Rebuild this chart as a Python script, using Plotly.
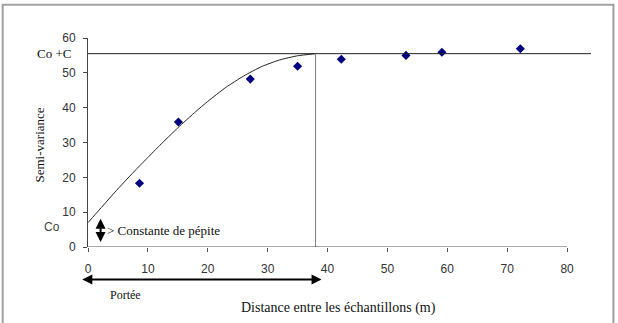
import plotly.graph_objects as go

dist = [8.6, 15.1, 27.1, 35.0, 42.3, 53.1, 59.1, 72.2]
semivar = [18.3, 35.9, 48.2, 51.9, 53.9, 55.0, 55.9, 56.9]

# Fitted model curve
model_x = [0, 2, 5, 8, 10, 12, 15, 18, 20, 23, 26, 29, 32, 35, 38]
model_y = [7.0, 10.9, 16.7, 22.2, 25.7, 29.2, 34.2, 38.9, 41.8, 45.8, 49.1, 51.8, 53.7, 54.9, 55.5]

sill = 55.5      # Co + C
nugget = 7.0     # Co
rng = 38.0       # Portée

x_ticks = [0, 10, 20, 30, 40, 50, 60, 70, 80]
y_ticks = [0, 10, 20, 30, 40, 50, 60]

SERIF = "'Liberation Serif', 'DejaVu Serif', 'Times New Roman', serif"
SANS = "'Liberation Sans', Arial, sans-serif"

fig = go.Figure()
fig.add_trace(go.Scatter(x=model_x, y=model_y, mode="lines",
                         line=dict(color="#222222", width=1, shape="spline", smoothing=0.5),
                         hoverinfo="skip", showlegend=False))
fig.add_trace(go.Scatter(x=dist, y=semivar, mode="markers",
                         marker=dict(symbol="diamond", size=7, color="#000080"),
                         showlegend=False))

shapes = [
    # outer frame
    dict(type="rect", xref="paper", yref="paper", x0=-0.1696, x1=1.0446, y0=-0.40, y1=1.1595,
         line=dict(color="#a0a0a0", width=2), layer="below"),
    # palier line
    dict(type="line", xref="x", yref="y", x0=0, x1=84, y0=sill, y1=sill,
         line=dict(color="#222222", width=1)),
    # range vertical line
    dict(type="line", xref="x", yref="y", x0=rng, x1=rng, y0=0, y1=sill,
         line=dict(color="#808080", width=1)),
    # x axis line (0..80)
    dict(type="line", xref="x", yref="y", x0=0, x1=x_ticks[-1], y0=0, y1=0,
         line=dict(color="#555555", width=1)),
]

annotations = [
    dict(text="Co +C", xref="paper", x=0, xanchor="right", xshift=-15, yref="y", y=sill,
         yanchor="middle", showarrow=False, font=dict(family=SERIF, size=13, color="#111111")),
    dict(text="Co", xref="paper", x=0, xanchor="center", xshift=-36, yref="y", y=5.6,
         yanchor="middle", showarrow=False, font=dict(family=SANS, size=12, color="#444444")),
    dict(text="Palier", xref="x", x=52.75, xanchor="center", yref="y", y=63, yanchor="middle",
         showarrow=False, font=dict(family=SERIF, size=14, color="#111111")),
    dict(text="> Constante de pépite", xref="x", x=2.9, xanchor="left", yref="y", y=4.8,
         yanchor="middle", showarrow=False, font=dict(family=SERIF, size=13, color="#111111")),
    dict(text="Portée", xref="x", x=6.3, xanchor="center", yref="paper", y=-0.229, yanchor="middle",
         showarrow=False, font=dict(family=SERIF, size=12, color="#111111")),
    dict(text="Distance entre les échantillons (m)", xref="x", x=41.9, xanchor="center",
         yref="paper", y=-0.29, yanchor="middle",
         showarrow=False, font=dict(family=SERIF, size=14, color="#111111")),
    dict(text="Semi-variance", xref="paper", x=-0.0956, xanchor="center", yref="paper", y=0.49,
         yanchor="middle", textangle=-90,
         showarrow=False, font=dict(family=SERIF, size=13, color="#111111")),
    # Portée double arrow
    dict(text="", xref="x", x=39.0, yref="paper", y=-0.155, axref="x", ax=-1.2, ayref="pixel", ay=0,
         showarrow=True, arrowside="end+start", arrowhead=2, arrowsize=1.0, arrowwidth=2,
         arrowcolor="#000000"),
    # Nugget double arrow
    dict(text="", xref="x", x=2.1, yref="y", y=8.1, axref="x", ax=2.1, ayref="y", ay=1.0,
         showarrow=True, arrowside="end+start", arrowhead=2, arrowsize=1.0, arrowwidth=2,
         arrowcolor="#000000"),
]

fig.update_layout(
    width=618, height=323,
    margin=dict(l=87.5, r=26.5, t=37.5, b=75.5),
    paper_bgcolor="white", plot_bgcolor="white",
    shapes=shapes, annotations=annotations,
    xaxis=dict(range=[0, 84], tickvals=x_ticks, ticks="outside", ticklen=4, tickcolor="#555555",
               showline=False, showgrid=False, zeroline=False, ticklabelstandoff=7,
               tickfont=dict(family=SANS, size=12, color="#333333")),
    yaxis=dict(range=[0, 60], tickvals=y_ticks, ticks="outside", ticklen=4, tickcolor="#444444",
               showline=True, linecolor="#444444", linewidth=1, showgrid=False, zeroline=False,
               ticklabelstandoff=5, tickfont=dict(family=SANS, size=12, color="#333333")),
)

fig.write_html("out.html")
